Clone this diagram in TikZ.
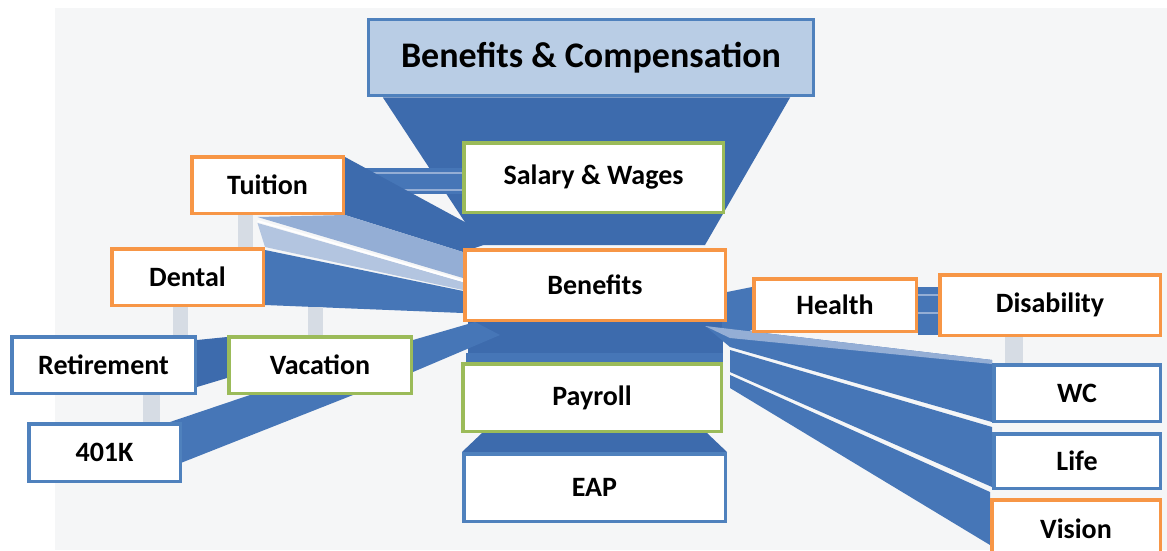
\documentclass[tikz,border=0pt]{standalone}
\usepackage{fontspec}
\setmainfont{Carlito}
\usepackage[HTML]{xcolor}
\usepackage{tikz}
\usetikzlibrary{positioning, calc}

\definecolor{bandblue}{HTML}{4676B7}
\definecolor{banddark}{HTML}{3D6BAD}
\definecolor{bandlight}{HTML}{94AED5}
\definecolor{bandpale}{HTML}{B3C5E0}
\definecolor{titlefill}{HTML}{B9CDE5}
\definecolor{boxblue}{HTML}{4F81BD}
\definecolor{boxorange}{HTML}{F79646}
\definecolor{boxgreen}{HTML}{9BBB59}
\definecolor{stubgray}{HTML}{D6DCE4}
\definecolor{backgray}{HTML}{F5F6F7}

\pgfdeclarelayer{bg}
\pgfdeclarelayer{bands}
\pgfsetlayers{bg,bands,main}

\begin{document}
\begin{tikzpicture}[x=1pt,y=-1pt,
  box/.style={draw=boxblue, fill=white, line width=3.5pt, inner sep=0pt,
    font=\bfseries\fontsize{28}{32}\selectfont},
  orangebox/.style={box, draw=boxorange},
  greenbox/.style={box, draw=boxgreen},
  bluebox/.style={box, draw=boxblue},
  stub/.style={fill=stubgray}]

\useasboundingbox (0,0) rectangle (1167,550);

% boxes
\node[bluebox, fill=titlefill, minimum width=445, minimum height=76,
  font=\bfseries\fontsize{36}{40}\selectfont] (title) at (591,57.5) {Benefits \& Compensation};
\node[greenbox, minimum width=259.5, minimum height=69.5] (salary) at (593.5,177.5) {Salary \& Wages};
\node[orangebox, minimum width=151.5, minimum height=56.5] (tuition) at (267.5,185) {Tuition};
\node[orangebox, minimum width=151.5, minimum height=56.5] (dental) at (187.5,277) {Dental};
\node[orangebox, minimum width=260.5, minimum height=70.5] (benefits) at (595,285) {Benefits};
\node[greenbox, minimum width=258.5, minimum height=67.5] (payroll) at (592,397.5) {Payroll};
\node[bluebox, minimum width=261.5, minimum height=67.5] (eap) at (594.5,487.5) {EAP};
\node[bluebox, minimum width=183.5, minimum height=56.5] (retirement) at (103.5,365) {Retirement};
\node[greenbox, minimum width=182.5, minimum height=56.5] (vacation) at (320,365) {Vacation};
\node[bluebox, minimum width=151.5, minimum height=57.5] (k401) at (104.5,452.5) {401K};
\node[orangebox, minimum width=162.5, minimum height=52.5] (health) at (835,305) {Health};
\node[orangebox, minimum width=220.5, minimum height=60.5] (disability) at (1050,305) {Disability};
\node[bluebox, minimum width=166.5, minimum height=56.5] (wc) at (1077,393) {WC};
\node[bluebox, minimum width=166.5, minimum height=54.5] (life) at (1077,461) {Life};
\node[orangebox, minimum width=168.5, minimum height=58.5] (vision) at (1076,529) {Vision};

% background
\begin{pgfonlayer}{bg}
\fill[white] (0,0) rectangle (1167,550);
\fill[backgray] (55,8) rectangle (1167,550);
\end{pgfonlayer}

\begin{pgfonlayer}{bands}
% funnel
\fill[banddark] ($(title.south west)+(16,0)$) -- ($(title.south east)+(-25,0)$)
  -- ($(benefits.north east)+(-22,-3)$) -- ($(benefits.north west)+(17,-3)$) -- cycle;
\fill[banddark] ($(benefits.south west)+(5,-2)$) rectangle ($(payroll.north east)+(0,2)$);
\fill[bandblue] ($(payroll.north west)+(5,-9)$) rectangle ($(payroll.north east)+(0,2)$);
\fill[banddark] ($(payroll.south west)+(21,0)$) -- ($(payroll.south east)+(-16,0)$)
  -- (eap.north east) -- (eap.north west) -- cycle;
% tuition
\fill[bandblue] ($(tuition.east)+(0,-17)$) rectangle ($(salary.west)+(0,16)$);
\draw[bandlight, line width=2] ($(tuition.east)+(0,-12)$) -- ($(salary.west)+(0,-4.5)$);
\draw[bandlight, line width=2] ($(tuition.east)+(0,5)$) -- ($(salary.west)+(0,12.5)$);
\fill[banddark] ($(tuition.north east)+(0,2)$) -- ($(benefits.north west)+(35,-8)$)
  -- ($(benefits.north west)+(0,4)$) -- (tuition.south east) -- cycle;
\fill[bandlight] ($(tuition.south)+(-10,2)$) -- (tuition.south east)
  -- ($(benefits.north west)+(0,4)$) -- ($(benefits.west)+(0,-7)$) -- cycle;
\fill[bandpale] ($(tuition.south)+(-10,8)$) -- ($(benefits.west)+(0,-3)$)
  -- ($(benefits.west)+(0,5)$) -- (dental.north east) -- cycle;
\draw[white, line width=2] ($(tuition.south)+(-10,6)$) -- ($(benefits.west)+(0,-4)$);
% dental
\fill[bandblue] ($(dental.north east)+(0,3)$) -- ($(benefits.west)+(0,6)$)
  -- ($(benefits.west)+(0,28)$) -- ($(dental.south east)+(0,-2)$) -- cycle;
% vacation, retirement, 401K
\fill[bandblue] ($(vacation.north east)+(0,5)$) -- ($(benefits.south west)+(12,0)$)
  -- ($(benefits.south west)+(37,13)$) -- ($(vacation.east)+(0,7)$) -- cycle;
\fill[banddark] ($(retirement.north east)+(0,5)$) -- ($(vacation.north west)+(0,2)$)
  -- ($(vacation.south west)+(0,-17)$) -- ($(retirement.south east)+(0,-8)$) -- cycle;
\fill[bandblue] ($(k401.north east)+(-12,0)$) -- ($(vacation.south west)+(23,0)$)
  -- ($(vacation.south west)+(126,0)$) -- ($(k401.east)+(0,10)$) -- cycle;
% health, disability
\fill[bandblue] ($(benefits.east)+(-5,8)$) -- ($(health.north west)+(0,10)$)
  -- ($(health.south west)+(0,-3)$) -- ($(benefits.south east)+(-5,18)$) -- cycle;
\fill[bandblue] ($(health.north east)+(0,10)$) rectangle ($(disability.south west)+(0,-2)$);
\draw[bandlight, line width=1.5] ($(health.east)+(0,-10)$) -- ($(disability.west)+(0,-10)$);
\draw[bandlight, line width=1.5] ($(health.east)+(0,8)$) -- ($(disability.west)+(0,8)$);
% wc, life, vision
\fill[bandblue] ($(benefits.south east)+(-22,4)$) -- ($(wc.north west)+(0,-3)$)
  -- ($(wc.south west)+(0,-1)$) -- ($(benefits.south east)+(3,25)$) -- cycle;
\fill[bandlight] ($(benefits.south east)+(-22,4)$) -- ($(wc.north west)+(0,-3)$)
  -- ($(wc.north west)+(0,1)$) -- ($(benefits.south east)+(3,16)$) -- cycle;
\fill[bandblue] ($(benefits.south east)+(3,28)$) -- ($(life.north west)+(0,-5)$)
  -- ($(life.south west)+(0,-3)$) -- ($(benefits.south east)+(3,50)$) -- cycle;
\fill[bandblue] ($(benefits.south east)+(3,53)$) -- ($(vision.north west)+(0,-6)$)
  -- ($(vision.north west)+(0,47)$) -- ($(benefits.south east)+(3,66)$) -- cycle;
% grey links
\fill[stub] ($(tuition.south west)+(48,0)$) rectangle ($(dental.north west)+(143,0)$);
\fill[stub] ($(dental.south west)+(63,0)$) rectangle ($(retirement.north west)+(178,0)$);
\fill[stub] ($(dental.south west)+(198,0)$) rectangle ($(vacation.north west)+(96,0)$);
\fill[stub] ($(retirement.south west)+(133,0)$) rectangle ($(k401.north west)+(133,0)$);
\fill[stub] ($(disability.south west)+(67,0)$) rectangle ($(wc.north west)+(31,0)$);
\end{pgfonlayer}
\end{tikzpicture}
\end{document}
